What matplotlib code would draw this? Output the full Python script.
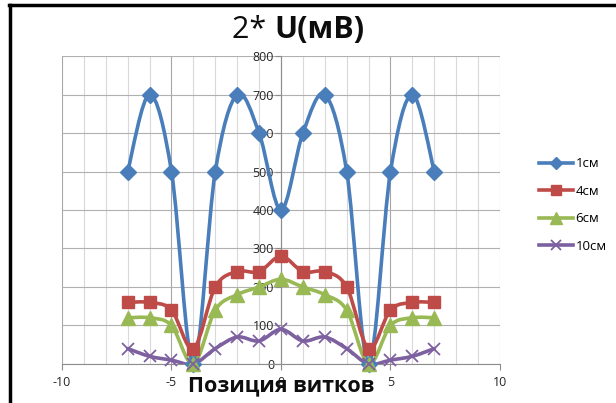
import matplotlib
matplotlib.use("Agg")
import matplotlib.pyplot as plt
from matplotlib.path import Path
from matplotlib.patches import PathPatch
from matplotlib.lines import Line2D
import numpy as np

# positions of the coil and measured 2*U values in mV
pos = [-7, -6, -5, -4, -3, -2, -1, 0, 1, 2, 3, 4, 5, 6, 7]
u_1cm = [500, 700, 500, 0, 500, 700, 600, 400, 600, 700, 500, 0, 500, 700, 500]
u_4cm = [160, 160, 140, 40, 200, 240, 240, 280, 240, 240, 200, 40, 140, 160, 160]
u_6cm = [120, 120, 100, 0, 140, 180, 200, 220, 200, 180, 140, 0, 100, 120, 120]
u_10cm = [40, 20, 10, 0, 40, 70, 60, 90, 60, 70, 40, 0, 10, 20, 40]

series = [
    ("1см", u_1cm, "#4A7EBB", "D", 8, 1),
    ("4см", u_4cm, "#BE4B48", "s", 9, 1),
    ("6см", u_6cm, "#98B954", "^", 10, 1),
    ("10см", u_10cm, "#7D60A0", "x", 9, 1.3),
]

plt.rcParams['font.family'] = ['Open Sans', 'DejaVu Sans']
plt.rcParams['axes.unicode_minus'] = False


def smooth_path(x, y):
    # excel-like smoothed line: catmull-rom segments as cubic beziers
    p = np.column_stack([x, y]).astype(float)
    n = len(p)
    verts = [p[0]]
    codes = [Path.MOVETO]
    for i in range(n - 1):
        p0 = p[i - 1] if i > 0 else p[i]
        p3 = p[i + 2] if i + 2 < n else p[i + 1]
        c1 = p[i] + (p[i + 1] - p0) / 6.0
        c2 = p[i + 1] - (p3 - p[i]) / 6.0
        verts += [c1, c2, p[i + 1]]
        codes += [Path.CURVE4] * 3
    return Path(verts, codes)


fig = plt.figure(figsize=(6.16, 4.03), dpi=100)
ax = fig.add_axes([0.1006, 0.0968, 0.7111, 0.7642])

ax.set_xlim(-10, 10)
ax.set_ylim(0, 800)
ax.set_xticks([-10, -5, 0, 5, 10])
ax.set_xticks(np.arange(-10, 11, 1), minor=True)
ax.set_yticks(np.arange(0, 801, 100))
ax.grid(which='minor', axis='x', color='#d9d9d9', lw=0.8)
ax.grid(which='major', axis='x', color='#a6a6a6', lw=0.8)
ax.grid(which='major', axis='y', color='#b0b0b0', lw=0.8)
ax.set_axisbelow(True)

for s in ['top', 'right']:
    ax.spines[s].set_visible(False)
ax.spines['left'].set_position(('data', 0))
ax.spines['left'].set_color('#8c8c8c')
ax.spines['bottom'].set_color('#8c8c8c')
ax.tick_params(axis='both', which='major', colors='#8c8c8c', labelcolor='#262626',
               labelsize=9, length=4, direction='out')
ax.tick_params(axis='x', which='minor', length=0)
ax.tick_params(axis='y', pad=1)
ax.tick_params(axis='x', pad=5)

handles = []
for name, vals, col, mk, ms, mew in series:
    ax.add_patch(PathPatch(smooth_path(pos, vals), fill=False, edgecolor=col,
                           lw=2.6, capstyle='round', joinstyle='round', zorder=3))
    ax.plot(pos, vals, ls='none', marker=mk, ms=ms, color=col, mec=col,
            mew=mew, zorder=4, clip_on=False)
    handles.append(Line2D([], [], color=col, lw=2.6, marker=mk,
                          ms=ms * 0.8, mew=mew, label=name))

ax.legend(handles=handles, loc='center left', bbox_to_anchor=(1.076, 0.516),
          frameon=False, fontsize=9.5, handlelength=2.6, labelspacing=1.1,
          handletextpad=0.2, borderaxespad=0)

ax.text(0, -0.07, "Позиция витков", transform=ax.get_xaxis_transform(),
        ha='center', va='center', fontsize=15.5, fontweight='bold', color='#0d0d0d')

fig.text(0.445, 0.925, "2* ", ha='right', va='center', fontsize=22, color='#0d0d0d')
fig.text(0.445, 0.925, "U(мВ)", ha='left', va='center', fontsize=22,
         fontweight='bold', color='#0d0d0d')

# outer chart frame
fig.add_artist(Line2D([0.0162, 0.0162], [0.0, 0.988], transform=fig.transFigure,
                      color='black', lw=2.5))
fig.add_artist(Line2D([0.0146, 1.0], [0.988, 0.988], transform=fig.transFigure,
                      color='black', lw=2.5))

fig.savefig("out.png", dpi=100)
